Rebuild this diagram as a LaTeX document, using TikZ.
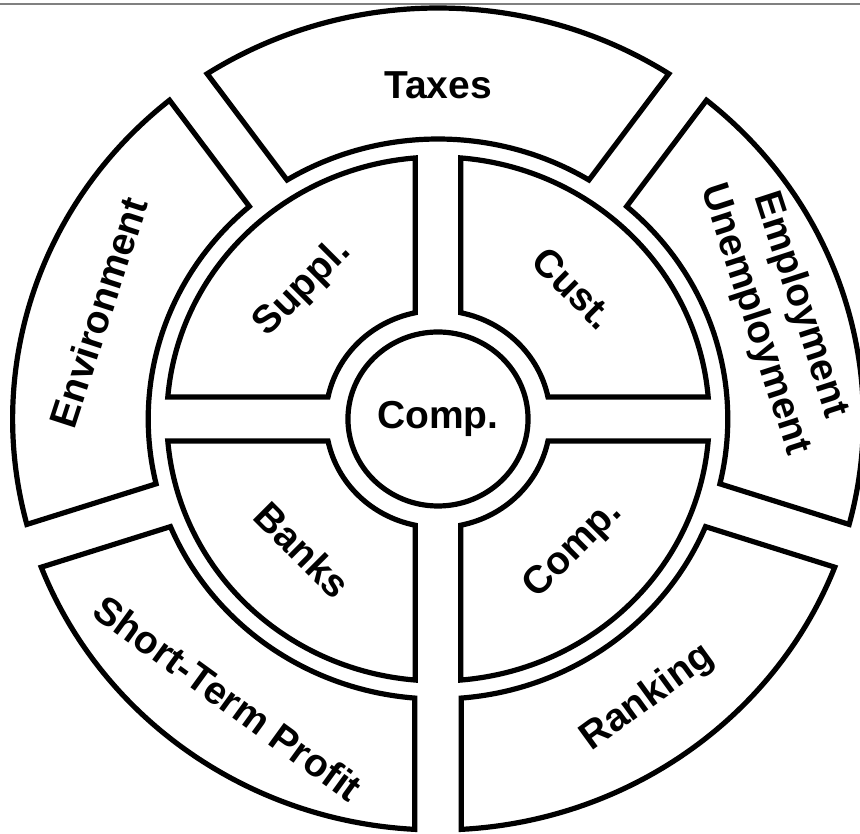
\documentclass[tikz,border=0pt]{standalone}
\usepackage{fontspec}
\setmainfont{Liberation Sans}
\usetikzlibrary{calc}
\tikzstyle{part} = [draw, line width=5.2, fill=white, line join=miter]

% ring piece between two gap directions: start, end, inner r, outer r, half gap
\newcommand{\ringpart}[5]{%
    \pgfmathsetmacro{\ao}{asin(#5/#4)}%
    \pgfmathsetmacro{\ai}{asin(#5/#3)}%
    \draw[part] ({#1+\ao}:#4) arc[start angle={#1+\ao}, end angle={#2-\ao}, radius=#4]
        -- ({#2-\ai}:#3) arc[start angle={#2-\ai}, end angle={#1+\ai}, radius=#3] -- cycle;
}

\begin{document}
\begin{tikzpicture}[
            x = 1pt, y = 1pt, % one unit per pixel
            font = \bfseries\fontsize{39}{48}\selectfont
        ]

        \tikzstyle{txt}=[
            align = center,
            inner sep = 0pt
        ]

        \useasboundingbox (-438,-415) rectangle (422,419);
        \draw[gray, line width=2] (-438,414.7) -- (422,414.7);

        \begin{scope}[xscale=1.035]
        % outer ring
        \ringpart{54}{126}{280}{411}{22.5}
        \ringpart{126}{198}{280}{411}{22.5}
        \ringpart{198}{270}{280}{411}{22.5}
        \ringpart{270}{342}{280}{411}{22.5}
        \ringpart{-18}{54}{280}{411}{22.5}

        % inner quadrants
        \ringpart{0}{90}{108.5}{262}{22}
        \ringpart{90}{180}{108.5}{262}{22}
        \ringpart{180}{270}{108.5}{262}{22}
        \ringpart{270}{360}{108.5}{262}{22}

        \draw[part] (0,0) circle[radius=87];

        \node[txt] (hub) at (0,0) {Comp.};
        \node[txt, rotate=45] (suppl) at (135:185) {Suppl.};
        \node[txt, rotate=-45] (cust) at (45:185) {Cust.};
        \node[txt, rotate=-45] (banks) at (225:185) {Banks};
        \node[txt, rotate=45] (comp) at (315:185) {Comp.};

        \node[txt] (taxes) at (90:334) {Taxes};
        \node[txt, rotate=-72] (employ) at (18:345) {Employment\\Unemployment};
        \node[txt, rotate=72] (env) at (162:345) {Environment};
        \node[txt, rotate=-36] (profit) at (234:345) {Short-Term Profit};
        \node[txt, rotate=36] (rank) at (306:345) {Ranking};
        \end{scope}

    \end{tikzpicture}
\end{document}
